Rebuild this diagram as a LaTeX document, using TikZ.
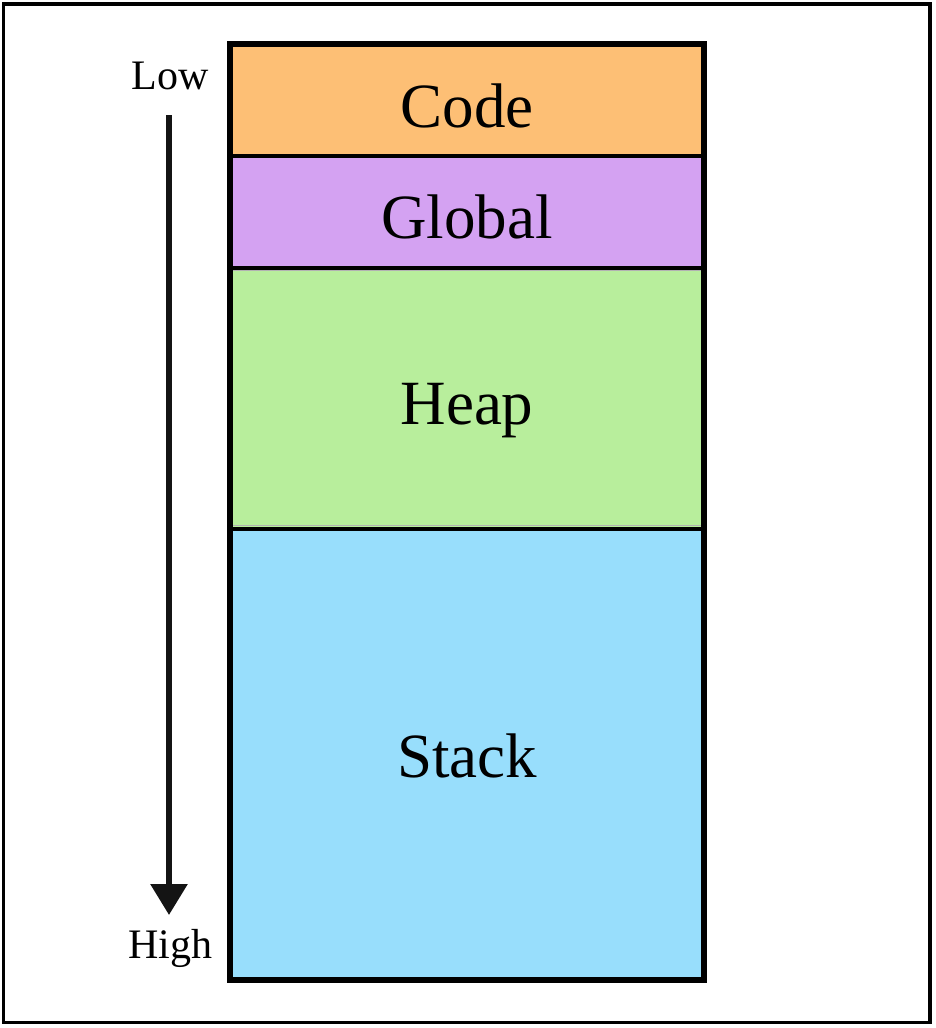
\documentclass[tikz,border=0pt]{standalone}
\usepackage{fontspec}
\setmainfont{Liberation Serif}
\usetikzlibrary{arrows.meta}
\definecolor{codecol}{HTML}{FDBF75}
\definecolor{globalcol}{HTML}{D4A2F2}
\definecolor{heapcol}{HTML}{B8EE9C}
\definecolor{stackcol}{HTML}{98DEFC}
\tikzset{
  seglabel/.style={anchor=base, font=\fontsize{63}{66}\selectfont, inner sep=0pt},
  sidelabel/.style={anchor=base, font=\fontsize{42}{45}\selectfont, inner sep=0pt},
  sepline/.style={line width=4pt},
  shadowline/.style={line width=1.5pt, black!30},
}
\begin{document}
\begin{tikzpicture}[x=1pt,y=-1pt]
\useasboundingbox (0,0) rectangle (936,1028);
\fill[white] (0,0) rectangle (936,1028);
\draw[line width=3.6pt] (3.5,3.7) rectangle (929.7,1022.3);
% segments
\fill[codecol] (230,44) rectangle (704,156);
\fill[globalcol] (230,156) rectangle (704,268);
\fill[heapcol] (230,268) rectangle (704,529);
\fill[stackcol] (230,529) rectangle (704,980);
\draw[shadowline] (233,270.5) -- (701,270.5);
\draw[shadowline] (233,525.5) -- (701,525.5);
\draw[sepline] (230,156) -- (704,156);
\draw[sepline] (230,268) -- (704,268);
\draw[sepline] (230,529) -- (704,529);
\draw[line width=6pt] (230,44) rectangle (704,980);
% labels
\node[seglabel] (code) at (467,127) {Code};
\node[seglabel] (global) at (467,238) {Global};
\node[seglabel] (heap) at (467,424) {Heap};
\node[seglabel] (stack) at (467,777) {Stack};
\node[sidelabel] (low) at (170,89) {Low};
\node[sidelabel] (high) at (170,958) {High};
\coordinate (astart) at (169,115);
\coordinate (aend) at (169,915);
\draw[line width=6pt, black!92, -{Triangle[width=36pt,length=31pt]}] (astart) -- (aend);
\end{tikzpicture}
\end{document}
